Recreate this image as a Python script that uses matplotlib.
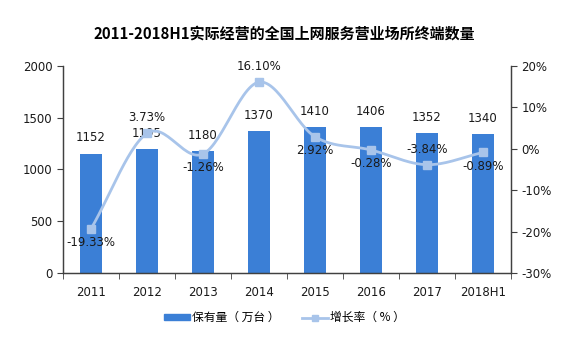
# -*- coding: utf-8 -*-
# Terminal count of internet service venues, 2011-2018H1

import numpy as np
import matplotlib.pyplot as plt
from matplotlib.lines import Line2D
from matplotlib.patches import Patch

plt.rcParams['font.family'] = ['DejaVu Sans', 'Noto Sans CJK SC']
plt.rcParams['savefig.facecolor'] = 'white'

# data
years = ["2011", "2012", "2013", "2014", "2015", "2016", "2017", "2018H1"]
units = [1152, 1195, 1180, 1370, 1410, 1406, 1352, 1340]
growth = [-19.33, 3.73, -1.26, 16.10, 2.92, -0.28, -3.84, -0.89]
growth_above = [False, True, False, True, False, False, True, False]

bar_color = "#3b7fd6"
line_color = "#a8c4ea"
text_color = "#1a1a1a"


def smooth(x, y, n=30):
    # catmull-rom curve through the points, like excel's smoothed line
    x = np.asarray(x, float)
    y = np.asarray(y, float)
    px = np.r_[2 * x[0] - x[1], x, 2 * x[-1] - x[-2]]
    py = np.r_[2 * y[0] - y[1], y, 2 * y[-1] - y[-2]]
    xs, ys = [], []
    t = np.linspace(0, 1, n)
    for i in range(1, len(px) - 2):
        for p, out in ((px, xs), (py, ys)):
            p0, p1, p2, p3 = p[i - 1], p[i], p[i + 1], p[i + 2]
            out.extend(0.5 * (2 * p1 + (-p0 + p2) * t
                              + (2 * p0 - 5 * p1 + 4 * p2 - p3) * t ** 2
                              + (-p0 + 3 * p1 - 3 * p2 + p3) * t ** 3))
    return np.array(xs), np.array(ys)


fig = plt.figure(figsize=(5.69, 3.41), dpi=100)
ax = fig.add_axes([0.1107, 0.1994, 0.7873, 0.6071])
ax2 = ax.twinx()

x = np.arange(len(years))

# bars
ax.bar(x, units, width=0.4, color=bar_color, zorder=2)
for xi, v in zip(x, units):
    ax.text(xi, v + 90, str(v), ha="center", va="bottom", fontsize=8.5, color=text_color)

ax.set_xlim(-0.5, len(years) - 0.5)
ax.set_ylim(0, 2000)
ax.set_yticks([0, 500, 1000, 1500, 2000])
ax.set_xticks(x)
ax.set_xticklabels(years)
ax.set_xticks(np.arange(-0.5, len(years)), minor=True)
ax.tick_params(axis="x", which="major", length=0, pad=9, labelsize=8.5, colors=text_color)
ax.tick_params(axis="x", which="minor", length=4, color="#404040")
ax.tick_params(axis="y", length=4, color="#404040", labelsize=8.5, labelcolor=text_color)

# growth line
sx, sy = smooth(x, growth)
ax2.plot(sx, sy, color=line_color, lw=2, zorder=3)
ax2.plot(x, growth, ls="none", marker="s", ms=5.5, color=line_color, zorder=4)
for xi, g, up in zip(x, growth, growth_above):
    if up:
        ax2.text(xi, g + 2.2, f"{g:.2f}%", ha="center", va="bottom", fontsize=8.5, color=text_color)
    else:
        ax2.text(xi, g - 1.8, f"{g:.2f}%", ha="center", va="top", fontsize=8.5, color=text_color)
ax2.set_ylim(-30, 20)
ax2.set_yticks([-30, -20, -10, 0, 10, 20])
ax2.set_yticklabels([f"{t}%" for t in [-30, -20, -10, 0, 10, 20]])
ax2.tick_params(axis="y", length=4, color="#404040", labelsize=8.5, labelcolor=text_color)

for a in (ax, ax2):
    a.spines["top"].set_visible(False)
    for s in ("left", "right", "bottom"):
        a.spines[s].set_color("#404040")
        a.spines[s].set_linewidth(0.9)

# title
fig.text(0.5, 0.902, "2011-2018H1实际经营的全国上网服务营业场所终端数量",
         ha="center", va="center", fontsize=10.8, fontweight="bold", color="#000000",
         family=["Noto Sans CJK SC", "DejaVu Sans"])

# legend
handles = [Patch(color=bar_color),
           Line2D([], [], color=line_color, lw=2, marker="s", ms=4.5)]
fig.legend(handles, ["保有量（ 万台 ）", "增长率（ % ）"], loc="center", bbox_to_anchor=(0.5, 0.068),
           ncol=2, frameon=False, handlelength=2.2, handleheight=0.5, columnspacing=1.9,
           handletextpad=0.15, prop={"family": ["Noto Sans CJK SC", "DejaVu Sans"], "size": 8.5})

plt.savefig("out.png", dpi=100)
